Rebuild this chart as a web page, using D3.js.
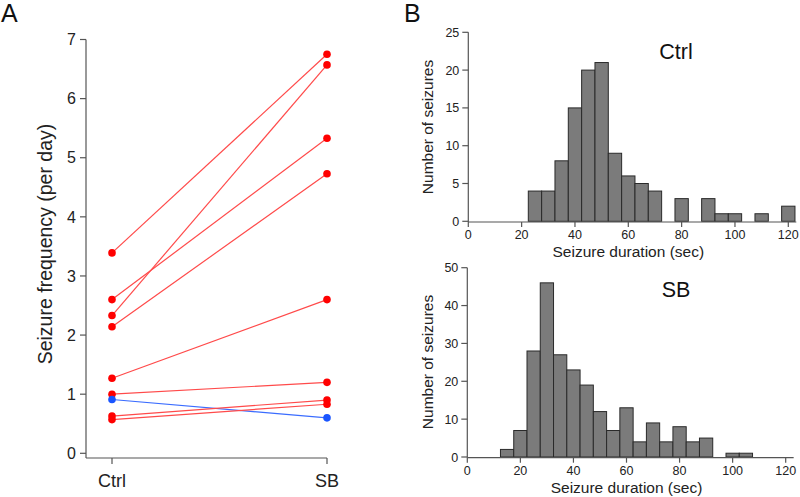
<!DOCTYPE html>
<html><head><meta charset="utf-8">
<script src="https://cdn.jsdelivr.net/npm/d3@7"></script>
<style>body{margin:0;background:#fff}svg{display:block;font-family:"Liberation Sans",Arial,sans-serif}</style>
</head><body>
<svg id="c" width="800" height="497"></svg>
<script>
// Panel A data
const conditions = ["Ctrl", "SB"];
const ctrlFreq = [3.39, 2.60, 2.33, 2.14, 1.27, 1.00, 0.91, 0.63, 0.57];
const sbFreq   = [6.75, 5.33, 6.57, 4.73, 2.60, 1.20, 0.60, 0.90, 0.83];
const pairColor = ["red","red","red","red","red","red","blue","red","red"];
const freqTicks = [0,1,2,3,4,5,6,7];
// Panel B data (bin centres, 5 s wide)
const ctrlBins = [25,30,35,40,45,50,55,60,65,70,75,80,85,90,95,100,105,110,115,120];
const ctrlCounts = [4,4,8,15,20,21,9,6,5,4,0,3,0,3,1,1,0,1,0,2];
const sbBins = [15,20,25,30,35,40,45,50,55,60,65,70,75,80,85,90,95,100,105];
const sbCounts = [2,7,28,46,27,23,19,12,7,13,4,9,4,8,4,5,0,1,1];
const durTicks = [0,20,40,60,80,100,120];
const ctrlYTicks = [0,5,10,15,20,25];
const sbYTicks = [0,10,20,30,40,50];

const svg = d3.select("#c");
const axisCol = "#555";

// ---------- Panel A ----------
const gA = svg.append("g");
const xA = d3.scalePoint().domain(conditions).range([112, 327]);
const yA = d3.scaleLinear().domain([0,7]).range([453.3, 39.5]);
const axLeftA = 86, axBottomA = 458;
gA.append("line").attr("x1",axLeftA).attr("x2",axLeftA).attr("y1",yA(7)).attr("y2",axBottomA).attr("stroke",axisCol).attr("stroke-width",1.2);
gA.append("line").attr("x1",axLeftA).attr("x2",xA("SB")).attr("y1",axBottomA).attr("y2",axBottomA).attr("stroke",axisCol).attr("stroke-width",1.2);
freqTicks.forEach(t=>{
  gA.append("line").attr("x1",axLeftA-6).attr("x2",axLeftA).attr("y1",yA(t)).attr("y2",yA(t)).attr("stroke",axisCol).attr("stroke-width",1.2);
  gA.append("text").attr("x",axLeftA-10).attr("y",yA(t)).attr("dy","0.36em").attr("text-anchor","end").attr("font-size",16).attr("fill","#222").text(t);
});
conditions.forEach(c=>{
  gA.append("line").attr("x1",xA(c)).attr("x2",xA(c)).attr("y1",axBottomA).attr("y2",axBottomA+6).attr("stroke",axisCol).attr("stroke-width",1.2);
  gA.append("text").attr("x",xA(c)).attr("y",487).attr("text-anchor","middle").attr("font-size",18).attr("fill","#222").text(c);
});
gA.append("text").attr("transform","translate(52,244) rotate(-90)").attr("text-anchor","middle").attr("font-size",19.5).attr("fill","#222").text("Seizure frequency (per day)");
svg.append("text").attr("x",1).attr("y",22).attr("font-size",25).attr("fill","#111").text("A");

const lineCol = {red:"#ff4a4a", blue:"#3a6cff"};
const dotCol = {red:"#ff0000", blue:"#1a55ff"};
ctrlFreq.forEach((v,i)=>{
  gA.append("line").attr("x1",xA("Ctrl")).attr("y1",yA(v)).attr("x2",xA("SB")).attr("y2",yA(sbFreq[i]))
    .attr("stroke",lineCol[pairColor[i]]).attr("stroke-width",1.2);
});
ctrlFreq.forEach((v,i)=>{
  gA.append("circle").attr("cx",xA("Ctrl")).attr("cy",yA(v)).attr("r",3.8).attr("fill",dotCol[pairColor[i]]);
  gA.append("circle").attr("cx",xA("SB")).attr("cy",yA(sbFreq[i])).attr("r",3.8).attr("fill",dotCol[pairColor[i]]);
});

// ---------- Panel B ----------
svg.append("text").attr("x",404).attr("y",22).attr("font-size",25).attr("fill","#111").text("B");

function hist(bins, counts, xr, yr, yTicks, ymax, title, titleY, ylabelY){
  const g = svg.append("g");
  const x = d3.scaleLinear().domain([0,120]).range(xr);
  const y = d3.scaleLinear().domain([0,ymax]).range(yr);
  const axY = yr[0]+0.7;
  bins.forEach((b,i)=>{
    if(counts[i]===0) return;
    g.append("rect").attr("x",x(b-2.5)).attr("width",x(b+2.5)-x(b-2.5))
      .attr("y",y(counts[i])).attr("height",y(0)-y(counts[i]))
      .attr("fill","#7b7b7b").attr("stroke","#2a2a2a").attr("stroke-width",1);
  });
  g.append("line").attr("x1",xr[0]).attr("x2",xr[0]).attr("y1",y(ymax)).attr("y2",axY).attr("stroke",axisCol).attr("stroke-width",1.2);
  g.append("line").attr("x1",xr[0]).attr("x2",x(123)).attr("y1",axY).attr("y2",axY).attr("stroke",axisCol).attr("stroke-width",1.2);
  yTicks.forEach(t=>{
    g.append("line").attr("x1",xr[0]-6).attr("x2",xr[0]).attr("y1",y(t)).attr("y2",y(t)).attr("stroke",axisCol).attr("stroke-width",1.2);
    g.append("text").attr("x",xr[0]-9).attr("y",y(t)).attr("dy","0.36em").attr("text-anchor","end").attr("font-size",12.5).attr("fill","#222").text(t);
  });
  durTicks.forEach(t=>{
    g.append("line").attr("x1",x(t)).attr("x2",x(t)).attr("y1",axY).attr("y2",axY+5).attr("stroke",axisCol).attr("stroke-width",1.2);
    g.append("text").attr("x",x(t)).attr("y",axY+17).attr("text-anchor","middle").attr("font-size",12.5).attr("fill","#222").text(t);
  });
  g.append("text").attr("x",x(60)).attr("y",axY+35).attr("text-anchor","middle").attr("font-size",15.5).attr("fill","#222").text("Seizure duration (sec)");
  g.append("text").attr("transform",`translate(433,${ylabelY}) rotate(-90)`).attr("text-anchor","middle").attr("font-size",15.5).attr("fill","#222").text("Number of seizures");
  g.append("text").attr("x",676).attr("y",titleY).attr("text-anchor","middle").attr("font-size",21.5).attr("fill","#111").text(title);
}
hist(ctrlBins, ctrlCounts, [468.3,788.3], [221.3,32.3], ctrlYTicks, 25, "Ctrl", 59, 127);
hist(sbBins, sbCounts, [467.3,785.7], [457,267.7], sbYTicks, 50, "SB", 297, 362);
</script>
</body></html>
